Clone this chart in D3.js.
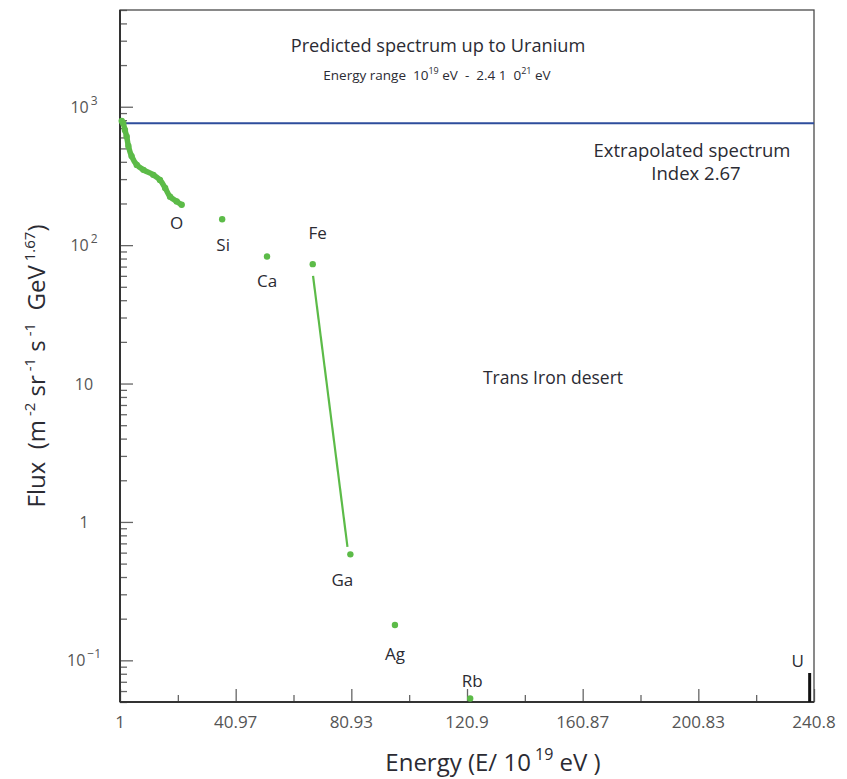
<!DOCTYPE html>
<html><head><meta charset="utf-8">
<script src="https://cdn.jsdelivr.net/npm/d3@7/dist/d3.min.js"></script>
<style>
body{margin:0;background:#fff}
svg text{font-family:"Open Sans","Noto Sans",sans-serif;white-space:pre}
</style>
</head><body>
<svg id="c" width="847" height="779"></svg>
<script>
// ---------- data ----------
const curveE    = [1.6, 2.1, 2.7, 3.3, 3.9, 5.0, 6.8, 9.1, 12.5, 14.8, 16.6, 18.3, 20.6, 22.3];
const curveFlux = [790, 760, 680, 610, 520, 440, 380, 350, 322, 296, 259, 224, 207, 196];
const curveLabel = "O";

const elements    = ["Si", "Ca", "Fe", "Ga", "Ag", "Rb"];
const elementE    = [36.3, 51.8, 67.6, 80.6, 96.0, 122.0];
const elementFlux = [154, 82.7, 72.9, 0.583, 0.18, 0.053];

const dropE    = [67.7, 79.6];
const dropFlux = [60, 0.66];

const extrapolatedFlux = 760;
const uraniumE = 239.3;
const uraniumFlux = 0.081;
const uraniumLabel = "U";

const xTickValues = [1, 40.97, 80.93, 120.9, 160.87, 200.83, 240.8];
const xTickLabels = ["1", "40.97", "80.93", "120.9", "160.87", "200.83", "240.8"];
const yTickValues = [0.1, 1, 10, 100, 1000];
const yTickBase   = ["10", "1", "10", "10", "10"];
const yTickExp    = ["\u22121", "", "", "2", "3"];

// ---------- layout ----------
const svg = d3.select("#c");
const L = 120, R = 814, T = 10, B = 702;
const x = d3.scaleLinear().domain([1, 240.8]).range([L, R]);
const y = d3.scaleLog().domain([0.05, 5000]).range([B, T]);

const green = "#5cbb48", blue = "#2e4d9c", axisCol = "#4a4a4a", tickCol = "#666", txt = "#2b2b33";

// minor y ticks
const yMinor = [];
[0.01, 0.1, 1, 10, 100, 1000].forEach(d => { for (let k = 2; k <= 9; k++) { const v = d * k; if (v >= 0.05 && v <= 5000) yMinor.push(v); } });

const yAxis = d3.axisRight(y).tickValues(yTickValues).tickSize(13).tickFormat("");
const gy = svg.append("g").attr("transform", `translate(${L},0)`).call(yAxis);
const yAxisMinor = d3.axisRight(y).tickValues(yMinor).tickSize(7).tickFormat("");
const gym = svg.append("g").attr("transform", `translate(${L},0)`).call(yAxisMinor);
[gy, gym].forEach(g => { g.select(".domain").remove(); g.selectAll("line").attr("stroke", tickCol).attr("stroke-width", 1.3); });

const xAxis = d3.axisTop(x).tickValues(xTickValues).tickSize(13).tickFormat("");
const gx = svg.append("g").attr("transform", `translate(0,${B})`).call(xAxis);
const xMinor = d3.range(xTickValues.length - 1).map(i => (xTickValues[i] + xTickValues[i + 1]) / 2);
const gxm = svg.append("g").attr("transform", `translate(0,${B})`).call(d3.axisTop(x).tickValues(xMinor).tickSize(7).tickFormat(""));
[gx, gxm].forEach(g => { g.select(".domain").remove(); g.selectAll("line").attr("stroke", tickCol).attr("stroke-width", 1.3); });

// frame
svg.append("rect").attr("x", L).attr("y", T).attr("width", R - L).attr("height", B - T)
  .attr("fill", "none").attr("stroke", axisCol).attr("stroke-width", 1.3);
svg.append("line").attr("x1", L).attr("x2", L).attr("y1", T).attr("y2", B).attr("stroke", "#333").attr("stroke-width", 2);
svg.append("line").attr("x1", L).attr("x2", R).attr("y1", B).attr("y2", B).attr("stroke", "#333").attr("stroke-width", 2);

// x tick labels
svg.append("g").selectAll("text").data(xTickValues).join("text")
  .attr("x", d => x(d)).attr("y", B + 26).attr("text-anchor", "middle")
  .attr("font-size", 17).attr("fill", "#555").text((d, i) => xTickLabels[i]);

// y tick labels
const yl = svg.append("g").selectAll("text").data(yTickValues).join("text")
  .attr("x", 84).attr("y", d => y(d) + 6).attr("text-anchor", "middle")
  .attr("font-size", 16).attr("fill", "#555");
yl.append("tspan").text((d, i) => yTickBase[i]);
yl.append("tspan").attr("dy", -8).attr("font-size", 12).text((d, i) => yTickExp[i] ? "\u2009" + yTickExp[i] : "");

// extrapolated spectrum line
svg.append("line").attr("x1", L).attr("x2", R).attr("y1", y(extrapolatedFlux)).attr("y2", y(extrapolatedFlux))
  .attr("stroke", blue).attr("stroke-width", 2);

// light-element curve
const curvePts = curveE.map((e, i) => [x(e), y(curveFlux[i])]);
svg.append("path").attr("d", d3.line().curve(d3.curveCatmullRom)(curvePts)).attr("fill", "none")
  .attr("stroke", green).attr("stroke-width", 5.5).attr("stroke-linecap", "round").attr("stroke-linejoin", "round");
svg.append("g").selectAll("circle").data(curvePts).join("circle")
  .attr("cx", d => d[0]).attr("cy", d => d[1]).attr("r", 3.2).attr("fill", green);

// drop line Fe -> Ga
svg.append("line").attr("x1", x(dropE[0])).attr("y1", y(dropFlux[0])).attr("x2", x(dropE[1])).attr("y2", y(dropFlux[1]))
  .attr("stroke", green).attr("stroke-width", 2.2);

// element dots
svg.append("g").selectAll("circle").data(elements).join("circle")
  .attr("cx", (d, i) => x(elementE[i])).attr("cy", (d, i) => y(elementFlux[i])).attr("r", 3.2).attr("fill", green);

// element labels (offsets from their dots)
const labelDx = [1, 0, 5, -8, 0, 2];
const labelDy = [32, 30, -25, 32, 35, -11];
svg.append("g").selectAll("text").data(elements).join("text")
  .attr("x", (d, i) => x(elementE[i]) + labelDx[i]).attr("y", (d, i) => y(elementFlux[i]) + labelDy[i])
  .attr("text-anchor", "middle").attr("font-size", 17).attr("fill", txt).text(d => d);
const last = curvePts[curvePts.length - 1];
svg.append("text").attr("x", last[0] - 5).attr("y", last[1] + 24).attr("text-anchor", "middle")
  .attr("font-size", 17).attr("fill", txt).text(curveLabel);

// uranium marker
svg.append("line").attr("x1", x(uraniumE)).attr("x2", x(uraniumE)).attr("y1", B).attr("y2", y(uraniumFlux))
  .attr("stroke", "#111").attr("stroke-width", 3);
svg.append("text").attr("x", x(uraniumE) - 12).attr("y", y(uraniumFlux) - 6).attr("text-anchor", "middle")
  .attr("font-size", 17).attr("fill", txt).text(uraniumLabel);

// annotations
svg.append("text").attr("x", 438).attr("y", 52).attr("text-anchor", "middle").attr("font-size", 18.2).attr("fill", txt)
  .text("Predicted spectrum up to Uranium");
const sub = svg.append("text").attr("x", 437).attr("y", 80).attr("text-anchor", "middle").attr("font-size", 13.5).attr("fill", txt);
sub.append("tspan").text("Energy range  10");
sub.append("tspan").attr("dy", -6).attr("font-size", 9).text("19");
sub.append("tspan").attr("dy", 6).text(" eV  -  2.4 1  0");
sub.append("tspan").attr("dy", -6).attr("font-size", 9).text("21");
sub.append("tspan").attr("dy", 6).text(" eV");

svg.append("text").attr("x", 692).attr("y", 157).attr("text-anchor", "middle").attr("font-size", 18.5).attr("fill", txt)
  .text("Extrapolated spectrum");
svg.append("text").attr("x", 696).attr("y", 180).attr("text-anchor", "middle").attr("font-size", 18.5).attr("fill", txt)
  .text("Index 2.67");
svg.append("text").attr("x", 553).attr("y", 384).attr("text-anchor", "middle").attr("font-size", 17.5).attr("fill", txt)
  .text("Trans Iron desert");

// axis titles
const xt = svg.append("text").attr("x", 493).attr("y", 771).attr("text-anchor", "middle").attr("font-size", 24).attr("fill", txt);
xt.append("tspan").text("Energy (E/ 10");
xt.append("tspan").attr("dy", -11).attr("font-size", 16).text(" 19");
xt.append("tspan").attr("dy", 11).text(" eV )");

const yt = svg.append("text").attr("transform", "translate(45,366) rotate(-90)").attr("text-anchor", "middle")
  .attr("font-size", 24).attr("fill", txt);
yt.append("tspan").text("Flux  (m");
yt.append("tspan").attr("dy", -10).attr("font-size", 15).text(" -2");
yt.append("tspan").attr("dy", 10).text(" sr");
yt.append("tspan").attr("dy", -10).attr("font-size", 15).text(" -1");
yt.append("tspan").attr("dy", 10).text(" s");
yt.append("tspan").attr("dy", -10).attr("font-size", 15).text(" -1");
yt.append("tspan").attr("dy", 10).text("  GeV");
yt.append("tspan").attr("dy", -10).attr("font-size", 15).text(" 1.67");
yt.append("tspan").attr("dy", 10).text(")");
</script>
</body></html>
